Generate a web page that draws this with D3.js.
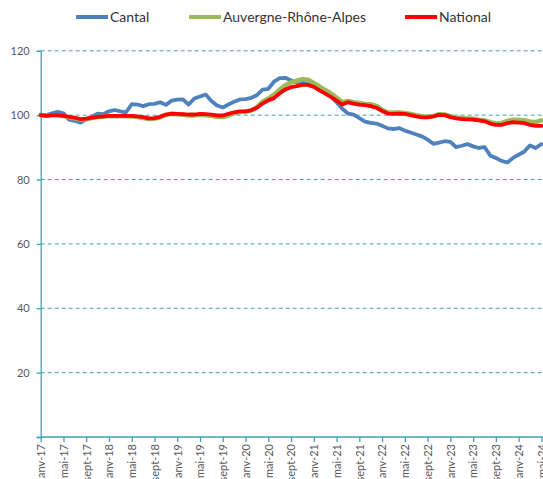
<!DOCTYPE html>
<html><head><meta charset="utf-8">
<script src="https://cdn.jsdelivr.net/npm/d3@7"></script>
<style>body{margin:0;background:#fff;overflow:hidden}svg{display:block}</style>
</head><body>
<svg id="chart" width="543" height="479"></svg>
<script>
const seriesNames = ["Cantal", "Auvergne-Rhône-Alpes", "National"];
const seriesColors = ["#4F81BD", "#9BBB59", "#FF0000"];
const tickLabels = ["janv-17","mai-17","sept-17","janv-18","mai-18","sept-18","janv-19","mai-19","sept-19","janv-20","mai-20","sept-20","janv-21","mai-21","sept-21","janv-22","mai-22","sept-22","janv-23","mai-23","sept-23","janv-24","mai-24"];
const yTicks = [0, 20, 40, 60, 80, 100, 120];

const cantal = [100.2,100.0,100.6,101.0,100.6,98.6,98.2,97.7,98.8,99.5,100.5,100.3,
  101.2,101.6,101.2,100.9,103.4,103.3,102.8,103.4,103.5,104.0,103.2,104.5,
  104.8,104.9,103.3,105.2,105.8,106.4,104.4,103.0,102.4,103.3,104.2,104.9,
  105.0,105.4,106.2,107.9,108.2,110.4,111.5,111.6,110.8,110.2,110.2,109.6,
  109.0,108.0,107.0,105.8,104.0,102.0,100.5,100.2,99.1,98.0,97.6,97.4,
  96.7,95.9,95.7,96.0,95.2,94.6,94.0,93.4,92.4,91.1,91.5,91.9,
  91.7,90.1,90.5,91.0,90.3,89.8,90.1,87.5,86.7,85.8,85.3,86.7,
  87.7,88.7,90.6,89.8,91.0];
const aura = [100.0,99.8,100.0,100.0,99.7,99.3,99.0,98.6,98.7,99.1,99.4,99.5,
  99.7,99.7,99.7,99.7,99.6,99.4,99.1,98.8,98.9,99.3,100.1,100.4,
  100.3,100.1,99.9,99.9,100.1,100.0,99.8,99.5,99.4,99.9,100.6,101.0,
  101.1,101.5,102.5,104.2,105.2,106.4,108.0,109.3,110.2,110.7,111.2,111.0,
  110.0,108.9,107.8,106.8,105.5,104.0,104.4,104.0,103.8,103.5,103.4,102.9,
  101.7,100.9,100.8,100.8,100.7,100.4,100.0,99.7,99.5,99.7,100.3,100.2,
  99.7,99.3,99.1,99.0,98.9,98.6,98.4,97.8,97.4,97.6,98.2,98.6,
  98.5,98.4,98.0,97.8,98.4];
const national = [100.0,99.8,100.0,100.0,99.8,99.5,99.2,98.8,98.9,99.2,99.5,99.6,
  99.8,99.8,99.8,99.8,99.8,99.6,99.4,99.0,99.1,99.5,100.2,100.5,
  100.4,100.3,100.2,100.2,100.4,100.3,100.2,99.9,99.9,100.4,100.9,101.2,
  101.2,101.5,102.3,103.6,104.6,105.3,106.8,108.0,108.7,109.0,109.4,109.4,
  108.8,107.7,106.7,105.7,104.5,103.3,104.0,103.6,103.3,103.1,102.8,102.3,
  101.3,100.5,100.4,100.5,100.4,100.0,99.6,99.3,99.3,99.6,100.1,100.0,
  99.4,99.0,98.8,98.7,98.6,98.4,98.1,97.4,97.0,97.0,97.5,97.8,
  97.7,97.5,97.0,96.7,96.7];

const months = d3.range(cantal.length);
const series = [cantal, aura, national];

const svg = d3.select("#chart");
const font = "Lato, 'Open Sans', sans-serif";
const axisColor = "#3fa2b4";

const x = d3.scaleLinear().domain([0, 88]).range([40.7, 541.4]);
const y = d3.scaleLinear().domain([0, 120]).range([437, 50.8]);

// gridlines
svg.append("g").selectAll("line").data(yTicks.filter(d => d > 0)).join("line")
  .attr("x1", 40.7).attr("x2", 560)
  .attr("y1", d => y(d)).attr("y2", d => y(d))
  .attr("stroke", axisColor).attr("stroke-width", 1)
  .attr("stroke-dasharray", "4,3");

// y axis
const yAxis = svg.append("g").attr("transform", "translate(40.7,0)")
  .call(d3.axisLeft(y).tickValues(yTicks).tickSize(4).tickPadding(7));
yAxis.select(".domain").attr("stroke", axisColor).attr("stroke-width", 1.3);
yAxis.selectAll(".tick line").attr("stroke", axisColor).attr("stroke-width", 1.3);
yAxis.selectAll("text").attr("fill", "#595959").style("font-family", font).style("font-size", "11px");
yAxis.selectAll(".tick").filter(d => d === 0).select("text").remove();

// x axis
const tickMonths = tickLabels.map((d, i) => i * 4);
const xAxis = svg.append("g").attr("transform", "translate(0,437)")
  .call(d3.axisBottom(x).tickValues(tickMonths).tickFormat((d, i) => tickLabels[i]).tickSize(5).tickSizeOuter(0));
xAxis.select(".domain").attr("stroke", axisColor).attr("stroke-width", 1.3).attr("d", "M40.7,0H560");
xAxis.selectAll(".tick line").attr("stroke", axisColor).attr("stroke-width", 1.3);
xAxis.selectAll("text")
  .attr("fill", "#595959").style("font-family", font).style("font-size", "11px")
  .attr("transform", "rotate(-90)")
  .attr("text-anchor", "end")
  .attr("x", -7).attr("y", 0).attr("dy", "0.35em");

// lines
const line = d3.line().x((d, i) => x(months[i])).y(d => y(d));
const widths = [3.8, 4.5, 3.8];
series.forEach((s, k) => {
  svg.append("path").datum(s)
    .attr("fill", "none")
    .attr("stroke", seriesColors[k])
    .attr("stroke-width", widths[k])
    .attr("stroke-linejoin", "round")
    .attr("stroke-linecap", "round")
    .attr("d", line);
});

// legend
const legendX = [76, 189, 405];
const leg = svg.append("g");
seriesNames.forEach((name, k) => {
  leg.append("line").attr("x1", legendX[k]).attr("x2", legendX[k] + 32)
    .attr("y1", 17).attr("y2", 17)
    .attr("stroke", seriesColors[k]).attr("stroke-width", 4);
  leg.append("text").attr("x", legendX[k] + 34).attr("y", 17).attr("dy", "0.35em")
    .attr("fill", "#333333").style("font-family", font).style("font-size", "14px")
    .text(name);
});
</script>
</body></html>
